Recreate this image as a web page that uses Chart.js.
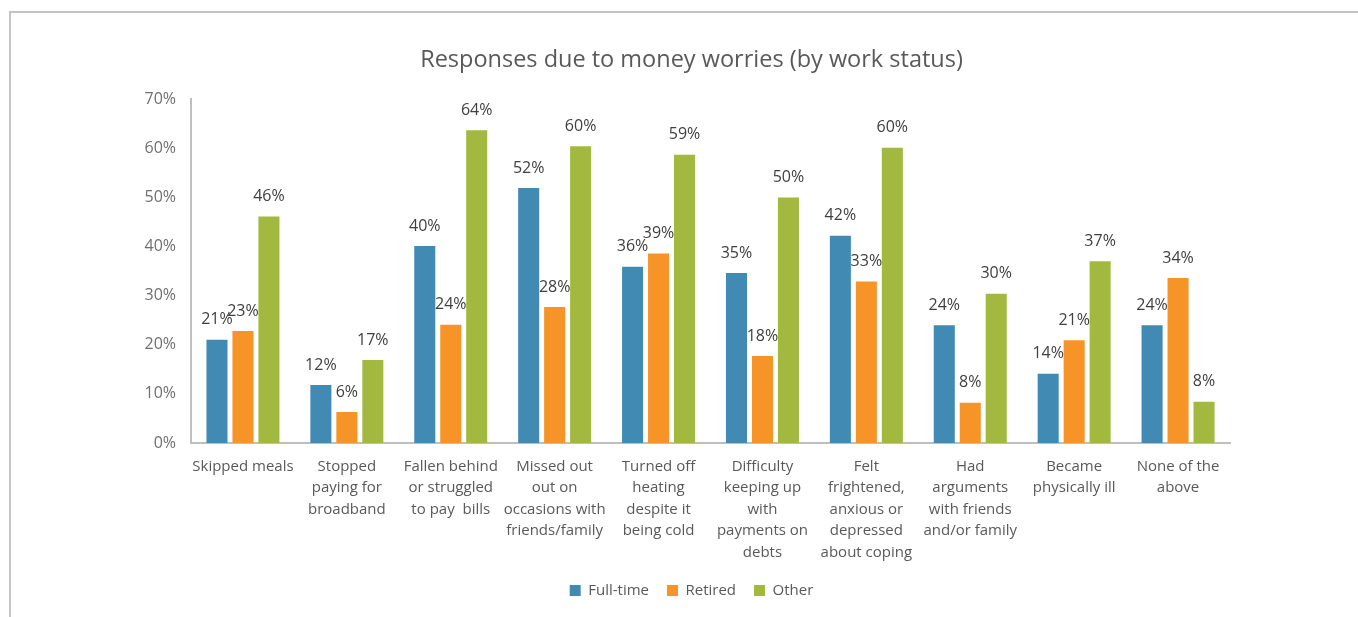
<!DOCTYPE html>
<html>
<head>
<meta charset="utf-8">
<script src="https://cdn.jsdelivr.net/npm/chart.js@4"></script>
<style>
  html, body { margin: 0; padding: 0; background: #fff; }
  body { width: 1358px; height: 617px; overflow: hidden; position: relative; }
  .frame {
    position: absolute; left: 9px; top: 11px; right: 0; bottom: 0;
    border-top: 2px solid #c4c4c4; border-left: 2px solid #c4c4c4;
  }
  .box { position: absolute; left: 11px; top: 13px; width: 1347px; height: 604px; }
</style>
</head>
<body>
<div class="frame"></div>
<div class="box"><canvas id="chart"></canvas></div>
<script>
const categories = [
  'Skipped meals',
  ['Stopped', 'paying for', 'broadband'],
  ['Fallen behind', 'or struggled', 'to pay  bills'],
  ['Missed out', 'out on', 'occasions with', 'friends/family'],
  ['Turned off', 'heating', 'despite it', 'being cold'],
  ['Difficulty', 'keeping up', 'with', 'payments on', 'debts'],
  ['Felt', 'frightened,', 'anxious or', 'depressed', 'about coping'],
  ['Had', 'arguments', 'with friends', 'and/or family'],
  ['Became', 'physically ill'],
  ['None of the', 'above']
];

const fullTime = [21.0, 11.8, 40.1, 51.9, 35.9, 34.6, 42.2, 24.0, 14.1, 24.0];
const retired  = [22.8, 6.3, 24.1, 27.7, 38.6, 17.7, 32.9, 8.2, 20.9, 33.6];
const other    = [46.1, 16.9, 63.7, 60.4, 58.7, 50.0, 60.1, 30.4, 37.0, 8.4];

const FONT = "'Open Sans', sans-serif";
const GREY = '#595959';

// value labels above each bar
const barLabels = {
  id: 'barLabels',
  afterDatasetsDraw(chart) {
    const ctx = chart.ctx;
    ctx.save();
    ctx.font = '16px ' + FONT;
    ctx.fillStyle = '#404040';
    ctx.textAlign = 'center';
    ctx.textBaseline = 'middle';
    chart.data.datasets.forEach((ds, i) => {
      chart.getDatasetMeta(i).data.forEach((bar, j) => {
        ctx.fillText(Math.round(ds.data[j]) + '%', bar.x, bar.y - 20);
      });
    });
    ctx.restore();
  }
};

new Chart(document.getElementById('chart'), {
  type: 'bar',
  data: {
    labels: categories,
    datasets: [
      { label: 'Full-time', data: fullTime, backgroundColor: '#418ab3' },
      { label: 'Retired',   data: retired,  backgroundColor: '#f79428' },
      { label: 'Other',     data: other,    backgroundColor: '#a2b83f' }
    ]
  },
  options: {
    responsive: true, maintainAspectRatio: false, animation: false,
    categoryPercentage: 0.75, barPercentage: 0.81,
    layout: { padding: { left: 14, right: 0, top: 0, bottom: 9 } },
    plugins: {
      title: {
        display: true, text: 'Responses due to money worries (by work status)',
        color: GREY, font: { family: FONT, size: 23.5, weight: 'normal' },
        padding: { top: 33, bottom: 25 }
      },
      legend: {
        position: 'bottom',
        labels: { color: GREY, font: { family: FONT, size: 15 }, boxWidth: 11, boxHeight: 11, padding: 18 }
      },
      tooltip: { enabled: false }
    },
    scales: {
      x: {
        grid: { display: false, drawTicks: false },
        border: { color: '#bfbfbf', width: 2 },
        ticks: { color: GREY, font: { family: FONT, size: 15, lineHeight: 1.43 }, padding: 13, maxRotation: 0, autoSkip: false },
        afterFit: s => { s.height = 122; }
      },
      y: {
        min: 0, max: 70,
        grid: { display: false, drawTicks: false },
        border: { color: '#bfbfbf', width: 2 },
        ticks: { stepSize: 10, color: '#6f6f6f', font: { family: FONT, size: 16 }, padding: 15, callback: v => v + '%' },
        afterFit: s => { s.width = 166; }
      },
      // empty right-hand axis that only reserves the blank margin
      yRight: {
        position: 'right', min: 0, max: 70,
        grid: { display: false, drawTicks: false },
        border: { display: false },
        ticks: { display: false },
        afterFit: s => { s.width = 128; }
      }
    }
  },
  plugins: [barLabels]
});
</script>
</body>
</html>
